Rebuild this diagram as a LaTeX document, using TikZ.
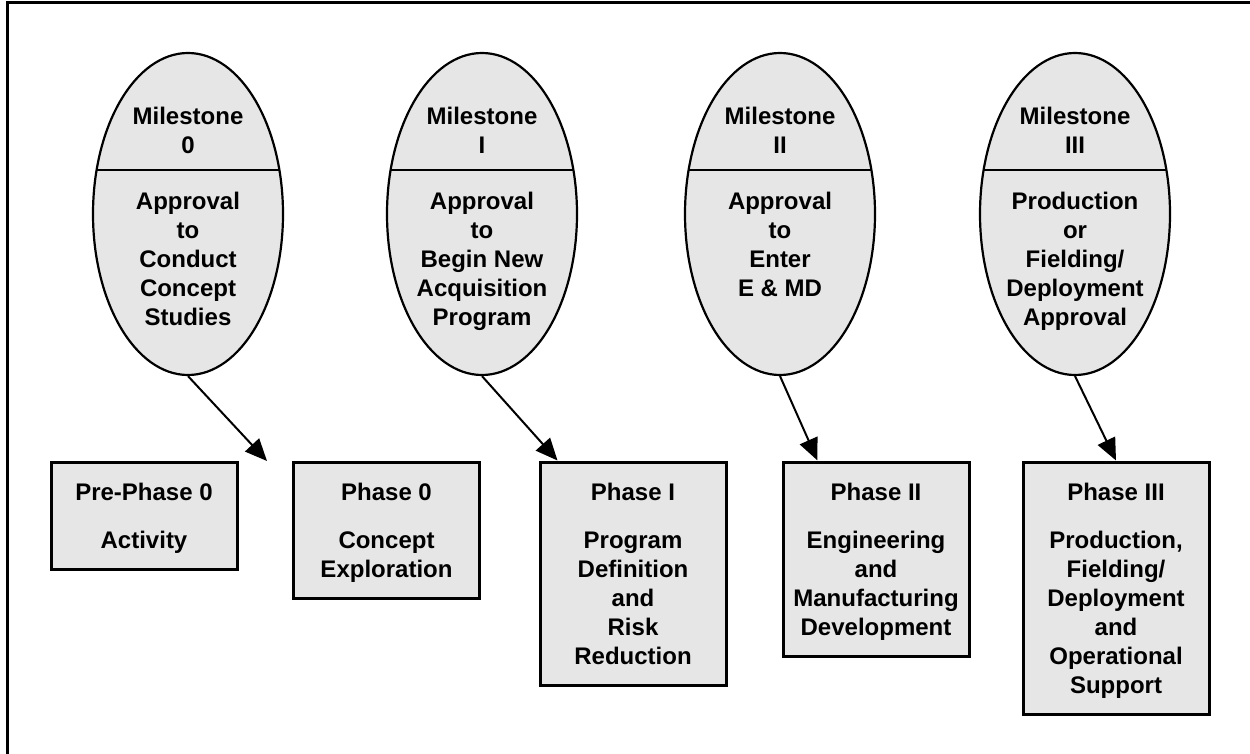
\documentclass[tikz,border=0pt]{standalone}
\usepackage{fontspec}
\setmainfont{Liberation Sans}
\usetikzlibrary{shapes.geometric,arrows.meta,calc}
\definecolor{fillgray}{RGB}{230,230,230}
\newcommand\fst{\rule{0pt}{22pt}}
\newcommand\tst{\rule{0pt}{18pt}}
\newcommand\lst{\rule[-5.2pt]{0pt}{5.2pt}}
\tikzset{
  txtfont/.style={font=\fontsize{24}{29}\selectfont\bfseries, align=center},
  milestone/.style={ellipse, draw, fill=fillgray, line width=2.2pt,
    minimum width=190pt, minimum height=322pt, inner sep=0pt},
  divider/.style={line width=2.2pt},
  mtext/.style={txtfont, anchor=north, inner sep=0pt},
  phasebox/.style={rectangle, draw, fill=fillgray, line width=3pt, txtfont,
    minimum width=186pt, inner xsep=4pt, inner ysep=16pt, anchor=north},
  conn/.style={line width=2pt, -{Triangle[length=22pt,width=19pt]}},
  frame/.style={line width=3pt}
}
\begin{document}
\begin{tikzpicture}[x=1pt,y=-1pt]
\useasboundingbox (0,0) rectangle (1250,754);
\draw[frame] (1260,3) -- (7,3) -- (7,760);

% milestones
\foreach \n/\cx in {0/188,1/482,2/780,3/1075}{
  \node[milestone] (m\n) at (\cx,214) {};
  \draw[divider] ($(m\n.center)+(-91.4,-44)$) -- ++(182.8,0);
}
\node[mtext] (m0a) at (188,106) {\tst Milestone\\0};
\node[mtext] (m0b) at (188,191) {\tst Approval\\to\\Conduct\\Concept\\Studies};
\node[mtext] (m1a) at (482,106) {\tst Milestone\\I};
\node[mtext] (m1b) at (482,191) {\tst Approval\\to\\Begin New\\Acquisition\\Program};
\node[mtext] (m2a) at (780,106) {\tst Milestone\\II};
\node[mtext] (m2b) at (780,191) {\tst Approval\\to\\Enter\\E \& MD};
\node[mtext] (m3a) at (1075,106) {\tst Milestone\\III};
\node[mtext] (m3b) at (1075,191) {\tst Production\\or\\Fielding/\\Deployment\\Approval};

% phases
\node[phasebox] (p0) at (144,460.5) {\fst Pre-Phase 0\\[19pt]Activity\lst};
\node[phasebox] (p1) at (386.5,460.5) {\fst Phase 0\\[19pt]Concept\\Exploration\lst};
\node[phasebox] (p2) at (633,460.5) {\fst Phase I\\[19pt]Program\\Definition\\and\\Risk\\Reduction\lst};
\node[phasebox] (p3) at (876,460.5) {\fst Phase II\\[19pt]Engineering\\and\\Manufacturing\\Development\lst};
\node[phasebox] (p4) at (1116,460.5) {\fst Phase III\\[19pt]Production,\\Fielding/\\Deployment\\and\\Operational\\Support\lst};

% connectors
\coordinate (a0) at (267,461);
\draw[conn] (m0.south) -- (a0);
\draw[conn] (m1.south) -- ([xshift=19pt]p2.north west);
\draw[conn] (m2.south) -- ([xshift=36pt]p3.north west);
\draw[conn] (m3.south) -- (p4.north);
\end{tikzpicture}
\end{document}
